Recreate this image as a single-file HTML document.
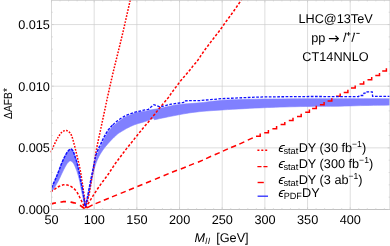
<!DOCTYPE html>
<html><head><meta charset="utf-8"><title>plot</title>
<style>html,body{margin:0;padding:0;background:#fff;}svg{display:block;}body{font-family:"Liberation Sans",sans-serif;}</style></head>
<body>
<svg width="390" height="246" viewBox="0 0 390 246">
<rect width="390" height="246" fill="#fff"/>
<defs><clipPath id="c"><rect x="50.4" y="0" width="339.6" height="210"/></clipPath></defs>
<path d="M94.18 0.15 V209.5 M136.85 0.15 V209.5 M179.53 0.15 V209.5 M222.20 0.15 V209.5 M264.88 0.15 V209.5 M307.55 0.15 V209.5 M350.23 0.15 V209.5 M51.5 147.85 H389.9 M51.5 86.20 H389.9 M51.5 24.55 H389.9" stroke="#cccccc" stroke-width="0.65" fill="none"/>
<g clip-path="url(#c)">
<path d="M51.50 187.80 L52.10 186.51 L52.70 185.23 L53.31 183.94 L53.91 182.65 L54.51 181.34 L55.10 180.00 L55.69 178.62 L56.29 177.20 L56.89 175.76 L57.47 174.32 L58.05 172.90 L58.60 171.50 L59.12 170.14 L59.61 168.80 L60.08 167.48 L60.56 166.16 L61.06 164.84 L61.60 163.50 L62.20 162.10 L62.83 160.65 L63.49 159.19 L64.16 157.78 L64.80 156.47 L65.40 155.30 L65.96 154.28 L66.51 153.36 L67.03 152.53 L67.54 151.80 L68.03 151.16 L68.50 150.60 L68.96 150.13 L69.40 149.74 L69.82 149.44 L70.23 149.23 L70.62 149.12 L71.00 149.10 L71.37 149.19 L71.72 149.39 L72.06 149.69 L72.38 150.06 L72.70 150.51 L73.00 151.00 L73.28 151.55 L73.54 152.15 L73.78 152.83 L74.03 153.57 L74.30 154.39 L74.60 155.30 L74.95 156.30 L75.32 157.39 L75.72 158.55 L76.12 159.78 L76.52 161.07 L76.90 162.40 L77.27 163.81 L77.63 165.31 L77.99 166.86 L78.34 168.44 L78.68 169.99 L79.00 171.50 L79.29 172.91 L79.54 174.25 L79.78 175.57 L80.03 176.93 L80.29 178.39 L80.60 180.00 L80.96 181.77 L81.35 183.65 L81.76 185.62 L82.19 187.69 L82.60 189.81 L83.00 192.00 L83.38 194.27 L83.75 196.65 L84.11 199.09 L84.47 201.57 L84.84 204.05 L85.20 206.50 L84.60 205.50 L84.09 203.04 L83.57 200.54 L83.05 198.03 L82.54 195.57 L82.05 193.21 L81.60 191.00 L81.19 188.94 L80.81 186.98 L80.46 185.12 L80.12 183.35 L79.77 181.65 L79.40 180.00 L79.01 178.41 L78.61 176.89 L78.21 175.44 L77.81 174.06 L77.40 172.74 L77.00 171.50 L76.59 170.32 L76.18 169.20 L75.76 168.16 L75.36 167.19 L74.97 166.30 L74.60 165.50 L74.27 164.81 L73.97 164.23 L73.69 163.72 L73.41 163.29 L73.12 162.88 L72.80 162.50 L72.45 162.12 L72.08 161.74 L71.69 161.41 L71.30 161.14 L70.90 160.97 L70.50 160.90 L70.10 160.95 L69.69 161.11 L69.27 161.35 L68.85 161.67 L68.42 162.06 L68.00 162.50 L67.57 163.02 L67.14 163.62 L66.71 164.29 L66.27 165.00 L65.83 165.75 L65.40 166.50 L64.98 167.23 L64.59 167.96 L64.19 168.72 L63.77 169.54 L63.31 170.45 L62.80 171.50 L62.22 172.72 L61.59 174.09 L60.92 175.56 L60.23 177.07 L59.51 178.57 L58.80 180.00 L58.05 181.41 L57.26 182.85 L56.45 184.28 L55.65 185.65 L54.91 186.90 L54.25 188.00 L53.69 188.90 L53.20 189.63 L52.76 190.25 L52.35 190.81 L51.94 191.38 L51.50 192.00Z" fill="#8080ff" stroke="#8080ff" stroke-width="0.6" stroke-linejoin="round"/>
<path d="M85.40 206.50 L85.84 204.66 L86.28 202.88 L86.72 201.09 L87.16 199.25 L87.62 197.32 L88.09 195.24 L88.59 192.95 L89.11 190.47 L89.63 187.89 L90.16 185.31 L90.68 182.81 L91.18 180.48 L91.65 178.35 L92.10 176.36 L92.54 174.46 L92.98 172.58 L93.42 170.69 L93.87 168.72 L94.32 166.63 L94.78 164.44 L95.23 162.23 L95.70 160.08 L96.17 158.06 L96.65 156.25 L97.17 154.63 L97.73 153.14 L98.29 151.78 L98.84 150.56 L99.33 149.48 L99.75 148.55 L100.04 147.88 L100.23 147.49 L100.37 147.24 L100.51 147.00 L100.72 146.61 L101.05 145.95 L101.51 144.97 L102.04 143.79 L102.64 142.47 L103.29 141.08 L103.97 139.68 L104.65 138.35 L105.35 137.05 L106.09 135.71 L106.86 134.37 L107.64 133.06 L108.44 131.81 L109.25 130.65 L110.08 129.58 L110.93 128.56 L111.79 127.61 L112.66 126.71 L113.52 125.86 L114.35 125.05 L115.13 124.31 L115.86 123.64 L116.59 123.02 L117.34 122.42 L118.14 121.80 L119.05 121.15 L120.03 120.46 L121.04 119.75 L122.12 119.03 L123.28 118.30 L124.55 117.57 L125.95 116.85 L127.55 116.10 L129.33 115.31 L131.22 114.52 L133.14 113.77 L135.01 113.10 L136.75 112.55 L138.35 112.15 L139.88 111.87 L141.36 111.67 L142.82 111.51 L144.27 111.35 L145.75 111.15 L146.39 110.98 L146.95 110.83 L147.52 110.67 L148.16 110.51 L148.96 110.32 L150.00 110.10 L151.32 109.85 L152.87 109.58 L154.58 109.28 L156.39 108.97 L158.21 108.64 L160.00 108.30 L161.77 107.93 L163.57 107.52 L165.40 107.09 L167.24 106.67 L169.08 106.27 L170.90 105.90 L172.62 105.57 L174.23 105.27 L175.84 104.99 L177.55 104.72 L179.47 104.46 L181.70 104.20 L184.27 103.96 L187.09 103.75 L190.12 103.55 L193.31 103.34 L196.62 103.09 L200.00 102.80 L203.39 102.43 L206.82 102.00 L210.36 101.53 L214.10 101.07 L218.12 100.65 L222.50 100.30 L227.08 100.03 L231.76 99.81 L236.72 99.63 L242.13 99.47 L248.17 99.33 L255.00 99.20 L263.04 99.08 L272.22 98.97 L282.03 98.88 L291.94 98.81 L301.44 98.75 L310.00 98.70 L317.54 98.67 L324.45 98.66 L330.94 98.67 L337.23 98.68 L343.51 98.69 L350.00 98.70 L356.66 98.70 L363.31 98.70 L369.96 98.70 L376.60 98.70 L383.25 98.70 L389.90 98.70 L389.90 105.10 L385.81 105.16 L381.79 105.22 L377.77 105.28 L373.68 105.34 L369.45 105.41 L365.00 105.50 L360.24 105.62 L355.19 105.76 L350.01 105.92 L344.82 106.07 L339.77 106.20 L335.00 106.30 L330.60 106.35 L326.48 106.36 L322.50 106.36 L318.52 106.35 L314.40 106.36 L310.00 106.40 L305.23 106.48 L300.19 106.58 L295.00 106.69 L289.81 106.82 L284.77 106.96 L280.00 107.10 L275.63 107.24 L271.57 107.38 L267.66 107.53 L263.70 107.70 L259.54 107.88 L255.00 108.10 L249.90 108.35 L244.35 108.64 L238.59 108.96 L232.87 109.28 L227.42 109.60 L222.50 109.90 L218.07 110.19 L213.93 110.47 L210.07 110.75 L206.47 111.03 L203.12 111.31 L200.00 111.60 L197.24 111.88 L194.88 112.15 L192.76 112.43 L190.74 112.71 L188.67 113.04 L186.40 113.40 L183.94 113.81 L181.41 114.27 L178.84 114.75 L176.22 115.26 L173.57 115.77 L170.90 116.30 L168.20 116.84 L165.45 117.40 L162.67 117.97 L159.87 118.55 L157.08 119.13 L154.30 119.70 L153.70 118.20 L152.25 118.78 L150.81 119.36 L149.37 119.95 L147.92 120.53 L146.47 121.08 L145.00 121.60 L143.51 122.07 L141.99 122.49 L140.46 122.89 L138.94 123.30 L137.45 123.72 L136.00 124.20 L134.57 124.74 L133.13 125.33 L131.72 125.95 L130.37 126.57 L129.12 127.16 L128.00 127.70 L127.06 128.18 L126.28 128.60 L125.60 129.00 L124.95 129.40 L124.27 129.83 L123.50 130.30 L122.63 130.81 L121.71 131.34 L120.77 131.89 L119.81 132.47 L118.85 133.11 L117.90 133.80 L116.97 134.56 L116.03 135.38 L115.09 136.24 L114.16 137.14 L113.23 138.07 L112.30 139.00 L111.37 139.95 L110.43 140.93 L109.49 141.94 L108.57 142.96 L107.67 143.98 L106.80 145.00 L105.96 146.01 L105.15 147.01 L104.36 148.02 L103.59 149.05 L102.84 150.11 L102.10 151.20 L101.38 152.31 L100.67 153.44 L99.98 154.59 L99.30 155.79 L98.64 157.05 L98.00 158.40 L97.38 159.81 L96.77 161.26 L96.18 162.78 L95.61 164.39 L95.05 166.12 L94.50 168.00 L93.97 170.08 L93.46 172.34 L92.96 174.72 L92.47 177.17 L91.99 179.62 L91.50 182.00 L91.01 184.37 L90.51 186.80 L90.02 189.22 L89.54 191.59 L89.06 193.87 L88.60 196.00 L88.15 197.95 L87.71 199.76 L87.28 201.47 L86.86 203.13 L86.43 204.79 L86.00 206.50Z" fill="#8080ff" stroke="#8080ff" stroke-width="0.6" stroke-linejoin="round"/>
<path d="M50.60 152.40 L51.47 150.55 L52.36 148.65 L53.24 146.75 L54.11 144.90 L54.97 143.13 L55.80 141.50 L56.62 139.97 L57.43 138.51 L58.23 137.13 L59.00 135.87 L59.73 134.75 L60.40 133.80 L61.01 133.05 L61.57 132.49 L62.09 132.06 L62.58 131.74 L63.05 131.46 L63.50 131.20 L63.93 130.95 L64.31 130.76 L64.67 130.62 L65.03 130.54 L65.40 130.50 L65.80 130.50 L66.22 130.53 L66.66 130.60 L67.11 130.71 L67.56 130.89 L68.03 131.15 L68.50 131.50 L68.98 131.90 L69.47 132.34 L69.97 132.85 L70.48 133.50 L70.99 134.33 L71.50 135.40 L72.01 136.76 L72.53 138.37 L73.05 140.16 L73.57 142.08 L74.09 144.05 L74.60 146.00 L75.11 148.00 L75.63 150.10 L76.14 152.26 L76.65 154.41 L77.14 156.51 L77.60 158.50 L78.04 160.35 L78.46 162.09 L78.86 163.78 L79.25 165.46 L79.63 167.19 L80.00 169.00 L80.35 170.88 L80.69 172.78 L81.01 174.72 L81.33 176.72 L81.66 178.81 L82.00 181.00 L82.37 183.36 L82.76 185.90 L83.15 188.51 L83.53 191.13 L83.89 193.65 L84.20 196.00 L84.46 198.15 L84.67 200.17 L84.86 202.10 L85.04 203.99 L85.21 205.87 L85.40 207.80" fill="none" stroke="#ff0000" stroke-width="1.5" stroke-dasharray="1.7 1.4"/>
<path d="M85.60 207.80 L86.22 205.45 L86.85 203.09 L87.49 200.72 L88.10 198.37 L88.68 196.03 L89.20 193.70 L89.65 191.37 L90.04 189.04 L90.39 186.72 L90.72 184.43 L91.05 182.18 L91.40 180.00 L91.77 177.91 L92.14 175.90 L92.52 173.94 L92.89 171.99 L93.25 170.02 L93.60 168.00 L93.94 165.90 L94.26 163.73 L94.58 161.54 L94.89 159.38 L95.19 157.29 L95.50 155.30 L95.78 153.56 L96.01 152.05 L96.25 150.61 L96.52 149.06 L96.86 147.25 L97.30 145.00 L97.88 142.19 L98.57 138.94 L99.34 135.42 L100.13 131.80 L100.89 128.27 L101.60 125.00 L102.25 121.95 L102.88 118.96 L103.49 116.06 L104.09 113.26 L104.65 110.57 L105.20 108.00 L105.69 105.71 L106.11 103.70 L106.51 101.81 L106.93 99.85 L107.42 97.64 L108.00 95.00 L108.66 92.02 L109.36 88.85 L110.12 85.44 L110.97 81.70 L111.92 77.58 L113.00 73.00 L114.25 67.83 L115.66 62.11 L117.17 56.00 L118.73 49.67 L120.30 43.28 L121.80 37.00 L123.26 30.78 L124.71 24.48 L126.16 18.12 L127.60 11.74 L129.05 5.36 L130.50 -1.00" fill="none" stroke="#ff0000" stroke-width="1.5" stroke-dasharray="1.7 1.4"/>
<path d="M50.60 191.90 L51.87 191.05 L53.19 190.15 L54.51 189.26 L55.79 188.40 L56.96 187.64 L58.00 187.00 L58.87 186.51 L59.61 186.12 L60.26 185.82 L60.84 185.59 L61.41 185.39 L62.00 185.20 L62.57 185.02 L63.10 184.87 L63.61 184.76 L64.12 184.69 L64.68 184.66 L65.30 184.70 L66.00 184.79 L66.76 184.92 L67.55 185.10 L68.37 185.34 L69.19 185.64 L70.00 186.00 L70.83 186.44 L71.69 186.97 L72.55 187.55 L73.39 188.18 L74.19 188.83 L74.90 189.50 L75.53 190.19 L76.10 190.93 L76.61 191.69 L77.09 192.46 L77.55 193.24 L78.00 194.00 L78.43 194.74 L78.82 195.48 L79.19 196.22 L79.55 196.96 L79.91 197.72 L80.30 198.50 L80.71 199.31 L81.13 200.14 L81.56 200.98 L81.98 201.83 L82.40 202.67 L82.80 203.50 L83.18 204.31 L83.56 205.11 L83.92 205.91 L84.28 206.71 L84.64 207.50 L85.00 208.30" fill="none" stroke="#ff0000" stroke-width="1.5" stroke-dasharray="2.6 1.8"/>
<path d="M85.60 208.00 L86.58 206.38 L87.55 204.77 L88.53 203.16 L89.50 201.54 L90.49 199.92 L91.50 198.30 L92.54 196.64 L93.61 194.94 L94.69 193.24 L95.77 191.58 L96.81 189.98 L97.80 188.50 L98.74 187.14 L99.63 185.87 L100.50 184.68 L101.34 183.54 L102.17 182.42 L103.00 181.30 L103.82 180.19 L104.64 179.11 L105.44 178.06 L106.22 177.02 L106.97 176.00 L107.70 175.00 L108.38 174.02 L109.03 173.07 L109.64 172.13 L110.25 171.20 L110.87 170.26 L111.50 169.30 L112.16 168.31 L112.82 167.30 L113.49 166.28 L114.16 165.26 L114.83 164.26 L115.50 163.30 L116.14 162.41 L116.75 161.60 L117.36 160.80 L118.00 159.97 L118.70 159.05 L119.50 158.00 L120.45 156.74 L121.53 155.29 L122.67 153.76 L123.81 152.23 L124.87 150.82 L125.80 149.60 L126.53 148.66 L127.10 147.94 L127.61 147.32 L128.12 146.70 L128.72 145.96 L129.50 145.00 L130.47 143.79 L131.57 142.43 L132.76 140.94 L134.01 139.40 L135.27 137.83 L136.50 136.30 L137.74 134.76 L139.02 133.16 L140.31 131.54 L141.59 129.95 L142.83 128.42 L144.00 127.00 L145.04 125.76 L145.96 124.70 L146.84 123.70 L147.76 122.66 L148.79 121.46 L150.00 120.00 L151.46 118.20 L153.11 116.13 L154.88 113.91 L156.67 111.65 L158.40 109.47 L160.00 107.50 L161.50 105.70 L162.96 103.97 L164.38 102.33 L165.70 100.77 L166.92 99.33 L168.00 98.00 L168.89 96.84 L169.59 95.86 L170.18 94.98 L170.73 94.14 L171.32 93.27 L172.00 92.30 L172.79 91.22 L173.64 90.09 L174.51 88.92 L175.40 87.75 L176.27 86.60 L177.10 85.50 L177.90 84.44 L178.70 83.39 L179.47 82.36 L180.24 81.36 L180.98 80.40 L181.70 79.50 L182.39 78.66 L183.05 77.89 L183.69 77.16 L184.33 76.44 L184.96 75.73 L185.60 75.00 L186.25 74.25 L186.90 73.51 L187.56 72.77 L188.21 72.03 L188.86 71.27 L189.50 70.50 L190.14 69.70 L190.77 68.89 L191.40 68.06 L192.03 67.23 L192.66 66.40 L193.30 65.60 L193.96 64.80 L194.66 63.99 L195.35 63.19 L196.02 62.42 L196.65 61.68 L197.20 61.00 L197.63 60.43 L197.96 59.98 L198.23 59.57 L198.52 59.12 L198.89 58.55 L199.40 57.80 L200.07 56.82 L200.84 55.67 L201.70 54.40 L202.60 53.08 L203.51 51.76 L204.40 50.50 L205.28 49.29 L206.17 48.09 L207.07 46.89 L207.98 45.69 L208.89 44.49 L209.80 43.30 L210.71 42.11 L211.64 40.91 L212.56 39.72 L213.49 38.54 L214.40 37.36 L215.30 36.20 L216.19 35.05 L217.07 33.92 L217.94 32.79 L218.80 31.67 L219.65 30.54 L220.50 29.40 L221.33 28.25 L222.13 27.10 L222.93 25.94 L223.73 24.77 L224.55 23.59 L225.40 22.40 L226.28 21.19 L227.19 19.97 L228.12 18.74 L229.05 17.50 L229.98 16.25 L230.90 15.00 L231.80 13.75 L232.70 12.51 L233.59 11.26 L234.48 10.00 L235.38 8.72 L236.30 7.40 L237.23 6.05 L238.18 4.66 L239.13 3.25 L240.09 1.83 L241.05 0.41 L242.00 -1.00" fill="none" stroke="#ff0000" stroke-width="1.5" stroke-dasharray="2.6 1.8"/>
<path d="M50.60 204.00 L51.50 203.80 L52.41 203.59 L53.31 203.38 L54.21 203.17 L55.11 202.98 L56.00 202.80 L56.90 202.64 L57.83 202.49 L58.74 202.35 L59.63 202.22 L60.46 202.11 L61.20 202.00 L61.81 201.90 L62.29 201.81 L62.72 201.72 L63.15 201.66 L63.66 201.62 L64.30 201.60 L65.10 201.61 L66.00 201.64 L66.98 201.69 L68.00 201.77 L69.01 201.87 L70.00 202.00 L70.99 202.16 L72.00 202.35 L73.02 202.57 L74.02 202.80 L74.95 203.05 L75.80 203.30 L76.52 203.54 L77.13 203.76 L77.68 203.99 L78.23 204.26 L78.82 204.59 L79.50 205.00 L80.29 205.51 L81.15 206.11 L82.05 206.77 L82.97 207.46 L83.90 208.14 L84.80 208.80" fill="none" stroke="#ff0000" stroke-width="1.7" stroke-dasharray="5.5 4.6"/>
<path d="M87.00 207.79 L92.60 204.83 M95.60 203.66 L100.60 201.63 M103.80 200.28 L108.80 198.22 M112.00 196.92 L117.00 194.88 M120.70 193.37 L125.70 191.33 M128.90 190.02 L133.90 187.98 M137.40 186.55 L142.40 184.50 M146.00 183.03 L151.00 180.97 M154.90 179.35 L159.90 177.28 M163.60 175.74 L168.60 173.65 M172.00 172.20 L177.00 170.30 M180.80 169.01 L185.80 167.06 M189.00 165.65 L194.00 163.67 M197.90 162.27 L202.90 160.16 M206.10 158.59 L211.10 156.30 M214.70 154.78 L219.70 152.58 M222.90 151.12 L227.90 148.92 M231.10 147.56 L236.10 145.45 M239.30 144.09 L244.30 141.84 M247.80 140.18 L252.80 137.85 M256.00 136.30 H260.20 V133.60 M264.20 132.80 H268.40 V130.10 M272.40 128.70 H276.60 V126.00 M280.60 124.60 H284.80 V121.90 M288.80 120.50 H293.00 V117.80 M297.00 116.40 H301.20 V113.70 M305.20 112.30 H309.40 V109.60 M312.10 108.50 H316.30 V105.80 M319.90 104.80 H324.10 V102.10 M327.60 101.00 H331.80 V98.30 M336.00 96.30 H340.20 V93.60 M343.70 92.50 H347.90 V89.80 M351.00 88.10 H355.20 V85.40 M359.50 84.00 H363.70 V81.30 M367.50 79.70 H371.70 V77.00 M375.30 75.60 H379.50 V72.90 M382.20 71.00 H386.40 V68.30 M390.00 67.30 H394.20 V64.60" fill="none" stroke="#ff0000" stroke-width="1.5" stroke-linejoin="miter"/>
<path d="M51.50 187.80 L52.10 186.51 L52.70 185.23 L53.31 183.94 L53.91 182.65 L54.51 181.34 L55.10 180.00 L55.69 178.62 L56.29 177.20 L56.89 175.76 L57.47 174.32 L58.05 172.90 L58.60 171.50 L59.12 170.14 L59.61 168.80 L60.08 167.48 L60.56 166.16 L61.06 164.84 L61.60 163.50 L62.20 162.10 L62.83 160.65 L63.49 159.19 L64.16 157.78 L64.80 156.47 L65.40 155.30 L65.96 154.28 L66.51 153.36 L67.03 152.53 L67.54 151.80 L68.03 151.16 L68.50 150.60 L68.96 150.13 L69.40 149.74 L69.82 149.44 L70.23 149.23 L70.62 149.12 L71.00 149.10 L71.37 149.19 L71.72 149.39 L72.06 149.69 L72.38 150.06 L72.70 150.51 L73.00 151.00 L73.28 151.55 L73.54 152.15 L73.78 152.83 L74.03 153.57 L74.30 154.39 L74.60 155.30 L74.95 156.30 L75.32 157.39 L75.72 158.55 L76.12 159.78 L76.52 161.07 L76.90 162.40 L77.27 163.81 L77.63 165.31 L77.99 166.86 L78.34 168.44 L78.68 169.99 L79.00 171.50 L79.29 172.91 L79.54 174.25 L79.78 175.57 L80.03 176.93 L80.29 178.39 L80.60 180.00 L80.96 181.77 L81.35 183.65 L81.76 185.62 L82.19 187.69 L82.60 189.81 L83.00 192.00 L83.38 194.27 L83.75 196.65 L84.11 199.09 L84.47 201.57 L84.84 204.05 L85.20 206.50" fill="none" stroke="#1010ff" stroke-width="1.5" stroke-dasharray="2.9 1.1"/>
<path d="M85.40 206.50 L85.81 204.62 L86.22 202.80 L86.63 200.97 L87.04 199.09 L87.46 197.12 L87.90 195.00 L88.36 192.67 L88.85 190.15 L89.35 187.53 L89.85 184.91 L90.34 182.37 L90.80 180.00 L91.24 177.83 L91.66 175.80 L92.07 173.86 L92.47 171.94 L92.88 170.01 L93.30 168.00 L93.72 165.87 L94.14 163.63 L94.56 161.38 L94.99 159.19 L95.44 157.14 L95.90 155.30 L96.41 153.67 L96.96 152.17 L97.53 150.82 L98.08 149.60 L98.58 148.53 L99.00 147.60 L99.29 146.93 L99.48 146.54 L99.62 146.29 L99.76 146.05 L99.97 145.66 L100.30 145.00 L100.76 144.02 L101.29 142.84 L101.89 141.52 L102.54 140.13 L103.22 138.73 L103.90 137.40 L104.60 136.10 L105.34 134.76 L106.11 133.43 L106.89 132.11 L107.69 130.86 L108.50 129.70 L109.33 128.63 L110.18 127.61 L111.04 126.66 L111.91 125.76 L112.77 124.91" fill="none" stroke="#1010ff" stroke-width="1.5" stroke-dasharray="2.9 1.1"/>
<path d="M112.77 124.91 L113.60 124.10 L114.38 123.36 L115.11 122.69 L115.84 122.07 L116.59 121.47 L117.39 120.85 L118.30 120.20 L119.28 119.51 L120.29 118.80 L121.37 118.08 L122.53 117.35 L123.80 116.62 L125.20 115.90 L126.77 115.18 L128.51 114.47 L130.36 113.75 L132.26 113.03 L134.15 112.32 L145.00 109.90 L148.50 109.30 L151.00 107.00 L153.90 104.70 L157.00 105.80 L160.10 107.00 L163.20 106.20 L170.90 104.20 L181.70 102.70 L183.60 102.50 L184.40 100.80 L200.00 100.50 L222.50 98.60 L255.00 97.20 L265.00 96.90 L310.00 96.50 L358.60 96.60 L359.40 95.50 L363.40 95.50 L364.00 93.20 L366.40 93.20 L367.00 91.90 L372.20 91.90 L372.60 96.30 L389.90 96.40" fill="none" stroke="#1010ff" stroke-width="1.3" stroke-dasharray="2.7 1.5"/>
</g>
<path d="M51.5 0.15 V209.5 M389.9 0.15 V209.5" fill="none" stroke="#d8d8d8" stroke-width="1"/>
<path d="M51.0 209.5 H390.4 M51.0 0.15 H390.4" fill="none" stroke="#c2c2c2" stroke-width="1"/>
<path d="M51.50 209.5 v-2.2 M51.50 0.15 v2.2 M60.03 209.5 v-1.2 M60.03 0.15 v1.2 M68.57 209.5 v-1.2 M68.57 0.15 v1.2 M77.11 209.5 v-1.2 M77.11 0.15 v1.2 M85.64 209.5 v-1.2 M85.64 0.15 v1.2 M94.18 209.5 v-2.2 M94.18 0.15 v2.2 M102.71 209.5 v-1.2 M102.71 0.15 v1.2 M111.25 209.5 v-1.2 M111.25 0.15 v1.2 M119.78 209.5 v-1.2 M119.78 0.15 v1.2 M128.31 209.5 v-1.2 M128.31 0.15 v1.2 M136.85 209.5 v-2.2 M136.85 0.15 v2.2 M145.38 209.5 v-1.2 M145.38 0.15 v1.2 M153.92 209.5 v-1.2 M153.92 0.15 v1.2 M162.45 209.5 v-1.2 M162.45 0.15 v1.2 M170.99 209.5 v-1.2 M170.99 0.15 v1.2 M179.53 209.5 v-2.2 M179.53 0.15 v2.2 M188.06 209.5 v-1.2 M188.06 0.15 v1.2 M196.59 209.5 v-1.2 M196.59 0.15 v1.2 M205.13 209.5 v-1.2 M205.13 0.15 v1.2 M213.67 209.5 v-1.2 M213.67 0.15 v1.2 M222.20 209.5 v-2.2 M222.20 0.15 v2.2 M230.74 209.5 v-1.2 M230.74 0.15 v1.2 M239.27 209.5 v-1.2 M239.27 0.15 v1.2 M247.81 209.5 v-1.2 M247.81 0.15 v1.2 M256.34 209.5 v-1.2 M256.34 0.15 v1.2 M264.88 209.5 v-2.2 M264.88 0.15 v2.2 M273.41 209.5 v-1.2 M273.41 0.15 v1.2 M281.95 209.5 v-1.2 M281.95 0.15 v1.2 M290.48 209.5 v-1.2 M290.48 0.15 v1.2 M299.01 209.5 v-1.2 M299.01 0.15 v1.2 M307.55 209.5 v-2.2 M307.55 0.15 v2.2 M316.09 209.5 v-1.2 M316.09 0.15 v1.2 M324.62 209.5 v-1.2 M324.62 0.15 v1.2 M333.16 209.5 v-1.2 M333.16 0.15 v1.2 M341.69 209.5 v-1.2 M341.69 0.15 v1.2 M350.23 209.5 v-2.2 M350.23 0.15 v2.2 M358.76 209.5 v-1.2 M358.76 0.15 v1.2 M367.30 209.5 v-1.2 M367.30 0.15 v1.2 M375.83 209.5 v-1.2 M375.83 0.15 v1.2 M384.37 209.5 v-1.2 M384.37 0.15 v1.2 M51.5 209.50 h2.2 M389.9 209.50 h-2.2 M51.5 197.17 h1.2 M389.9 197.17 h-1.2 M51.5 184.84 h1.2 M389.9 184.84 h-1.2 M51.5 172.51 h1.2 M389.9 172.51 h-1.2 M51.5 160.18 h1.2 M389.9 160.18 h-1.2 M51.5 147.85 h2.2 M389.9 147.85 h-2.2 M51.5 135.52 h1.2 M389.9 135.52 h-1.2 M51.5 123.19 h1.2 M389.9 123.19 h-1.2 M51.5 110.86 h1.2 M389.9 110.86 h-1.2 M51.5 98.53 h1.2 M389.9 98.53 h-1.2 M51.5 86.20 h2.2 M389.9 86.20 h-2.2 M51.5 73.87 h1.2 M389.9 73.87 h-1.2 M51.5 61.54 h1.2 M389.9 61.54 h-1.2 M51.5 49.21 h1.2 M389.9 49.21 h-1.2 M51.5 36.88 h1.2 M389.9 36.88 h-1.2 M51.5 24.55 h2.2 M389.9 24.55 h-2.2 M51.5 12.22 h1.2 M389.9 12.22 h-1.2 M51.5 -0.11 h1.2 M389.9 -0.11 h-1.2" stroke="#cccccc" stroke-width="0.8" fill="none"/>
<g font-family="Liberation Sans, sans-serif" font-size="12.7" fill="#000" text-rendering="geometricPrecision" style="will-change:transform">
<text x="49.9" y="214" text-anchor="end">0.000</text>
<text x="49.9" y="152" text-anchor="end">0.005</text>
<text x="49.9" y="91" text-anchor="end">0.010</text>
<text x="49.9" y="29" text-anchor="end">0.015</text>
<text x="51.60" y="223.7" text-anchor="middle">50</text>
<text x="94.28" y="223.7" text-anchor="middle">100</text>
<text x="136.95" y="223.7" text-anchor="middle">150</text>
<text x="179.62" y="223.7" text-anchor="middle">200</text>
<text x="222.30" y="223.7" text-anchor="middle">250</text>
<text x="264.98" y="223.7" text-anchor="middle">300</text>
<text x="307.65" y="223.7" text-anchor="middle">350</text>
<text x="350.33" y="223.7" text-anchor="middle">400</text>
<text x="194.6" y="241.7"><tspan font-style="italic">M</tspan><tspan font-style="italic" font-size="8.6" dy="2.2" letter-spacing="0.8">ll</tspan><tspan dy="-2.2" dx="5.6">[GeV]</tspan></text>
<text transform="translate(11.8,118.9) rotate(-90) scale(0.87,1)" font-size="11.8">&#916;AFB<tspan dy="-0.5">*</tspan></text>
<text x="335.6" y="22.8" text-anchor="middle">LHC@13TeV</text>
<text x="311.3" y="41.7">pp</text>
<path d="M329.3 38.6 H338.2 M335.7 36.0 L338.5 38.6 L335.7 41.2" stroke="#000" stroke-width="1.05" fill="none" stroke-linecap="round" stroke-linejoin="round"/>
<path d="M343.4 41.8 L345.9 33.2 L344.9 33.2 M351.9 41.8 L354.5 33.2 L353.5 33.2" stroke="#111" stroke-width="1.05" fill="none" stroke-linejoin="miter"/>
<path d="M346.7 33.9 H350.5 M348.6 32.0 V35.8 M356.3 33.4 H359.7" stroke="#111" stroke-width="0.95" fill="none"/>
<text x="335.5" y="60.8" text-anchor="middle">CT14NNLO</text>
<text transform="translate(277.9,151.5) skewX(-8)" font-size="13.2" font-style="italic">&#1013;</text>
<text x="283.4" y="153.8" font-size="9.3">stat</text>
<text x="298.7" y="151.5">DY (30 fb<tspan font-size="8.6" dy="-4.6">&#8722;1</tspan><tspan dy="4.6">)</tspan></text>
<text transform="translate(277.9,167.8) skewX(-8)" font-size="13.2" font-style="italic">&#1013;</text>
<text x="283.4" y="170.10000000000002" font-size="9.3">stat</text>
<text x="298.7" y="167.8">DY (300 fb<tspan font-size="8.6" dy="-4.6">&#8722;1</tspan><tspan dy="4.6">)</tspan></text>
<text transform="translate(277.9,183.9) skewX(-8)" font-size="13.2" font-style="italic">&#1013;</text>
<text x="283.4" y="186.20000000000002" font-size="9.3">stat</text>
<text x="298.7" y="183.9">DY (3 ab<tspan font-size="8.6" dy="-4.6">&#8722;1</tspan><tspan dy="4.6">)</tspan></text>
<text transform="translate(277.9,197.3) skewX(-8)" font-size="13.2" font-style="italic">&#1013;</text>
<text x="283.7" y="199.20000000000002" font-size="9.1">PDF</text>
<text x="302.0" y="197.3">DY</text>
</g>
<path d="M257.4 150.3 H267.6" stroke="#ff0000" stroke-width="1.4" stroke-dasharray="2 1.9" fill="none"/>
<path d="M257.4 166.6 H267.6" stroke="#ff0000" stroke-width="1.4" stroke-dasharray="4.1 1.9" fill="none"/>
<path d="M257.6 182.5 H263.8" stroke="#ff0000" stroke-width="1.4" fill="none"/>
<path d="M257.6 196.2 H268.0" stroke="#2a2aff" stroke-width="1.3" fill="none"/>
</svg>
</body></html>
